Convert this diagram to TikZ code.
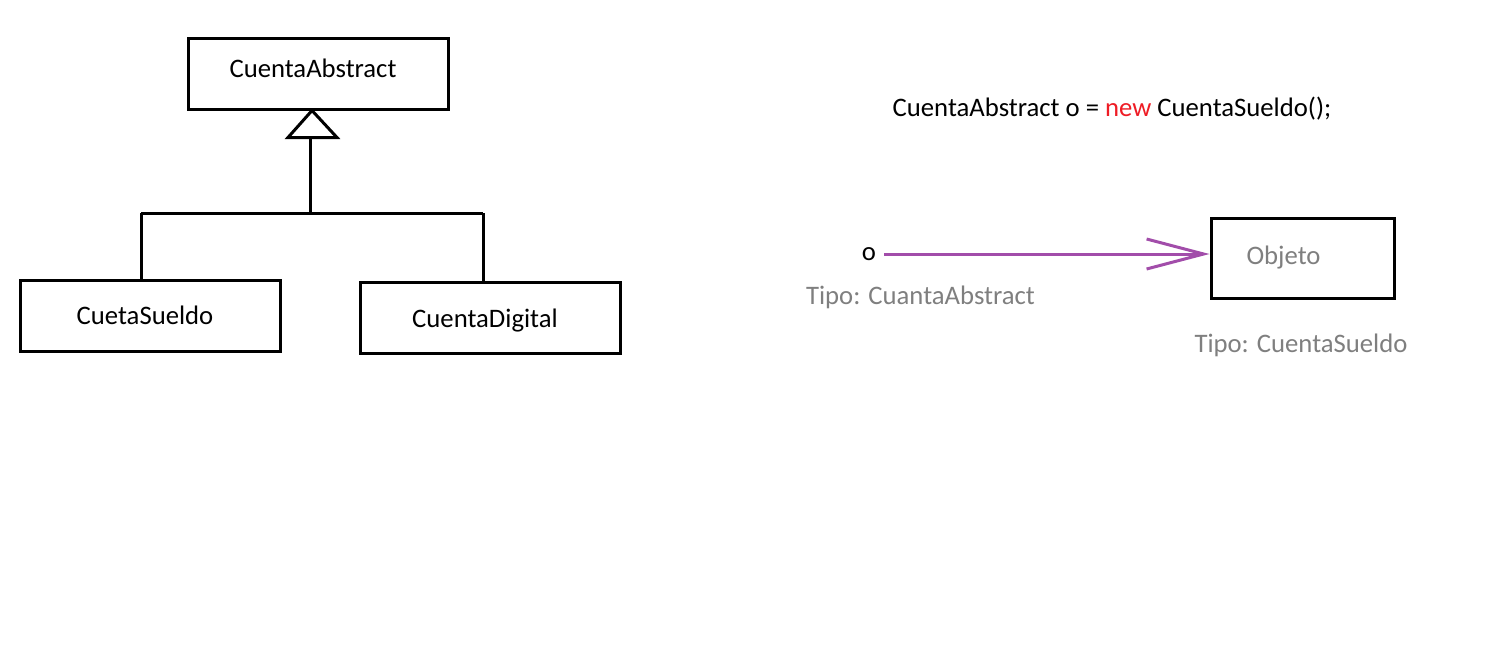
\documentclass[tikz,border=0pt]{standalone}
\usepackage{fontspec}
\setmainfont{Carlito}
\usetikzlibrary{arrows.meta}
\definecolor{txtgray}{HTML}{7F7F7F}
\definecolor{arrpurple}{HTML}{A24DAA}
\definecolor{kwred}{HTML}{EE1C25}
\begin{document}
\begin{tikzpicture}[x=1pt,y=-1pt,
  classbox/.style={draw=black, line width=3pt, minimum width=260pt, minimum height=71pt, inner sep=0pt, text height=19pt, text depth=6pt, font=\fontsize{26.7}{30}\selectfont},
  objbox/.style={draw=black, line width=3pt, minimum width=183pt, minimum height=80pt, inner sep=0pt, font=\fontsize{26.7}{30}\selectfont, text=txtgray},
  plaintext/.style={inner sep=0pt, font=\fontsize{26.7}{30}\selectfont},
  conn/.style={line width=3pt},
]
\useasboundingbox (0,0) rectangle (1500,651);
% class hierarchy
\node[classbox] (abs) at (318,73.5) {\hspace*{-10pt}\raisebox{3pt}{CuentaAbstract}};
\node[classbox] (sue) at (150,316) {\hspace*{-10pt}\raisebox{-2pt}{CuetaSueldo}};
\node[classbox] (dig) at (490,318) {\hspace*{-10pt}\raisebox{-3pt}{CuentaDigital}};
\coordinate (j) at (310,213);
\coordinate (jl) at (141,213);
\coordinate (jr) at (483,213);
\coordinate (tip) at ([shift={(-6,0)}]abs.south);
\coordinate (base) at ([shift={(0,27)}]tip -| j);
\draw[conn] (jl) -- (jr);
\draw[conn] (jl) -- (sue.north -| jl);
\draw[conn] (jr) -- (dig.north -| jr);
\draw[conn,line join=miter] (tip) -- ++(-24,27) -- ++(49,0) -- cycle;
\draw[conn] (j) -- (base);
% right side
\node[plaintext] (code) at (1112,109) {CuentaAbstract o = \textcolor{kwred}{new} CuentaSueldo();};
\node[plaintext] (o) at (869,254) {o};
\node[objbox] (obj) at (1302.5,258) {\hspace*{-38pt}Objeto};
\node[plaintext, text=txtgray] (t1) at (920.5,297) {Tipo: CuantaAbstract};
\node[plaintext, text=txtgray] (t2) at (1301,345) {Tipo: CuentaSueldo};
\coordinate (os) at (884,254);
\draw[line width=3pt, arrpurple, -{Straight Barb[length=57pt,width=30pt,line width=3pt]}] (os) -- (os -| obj.west);
\end{tikzpicture}
\end{document}
